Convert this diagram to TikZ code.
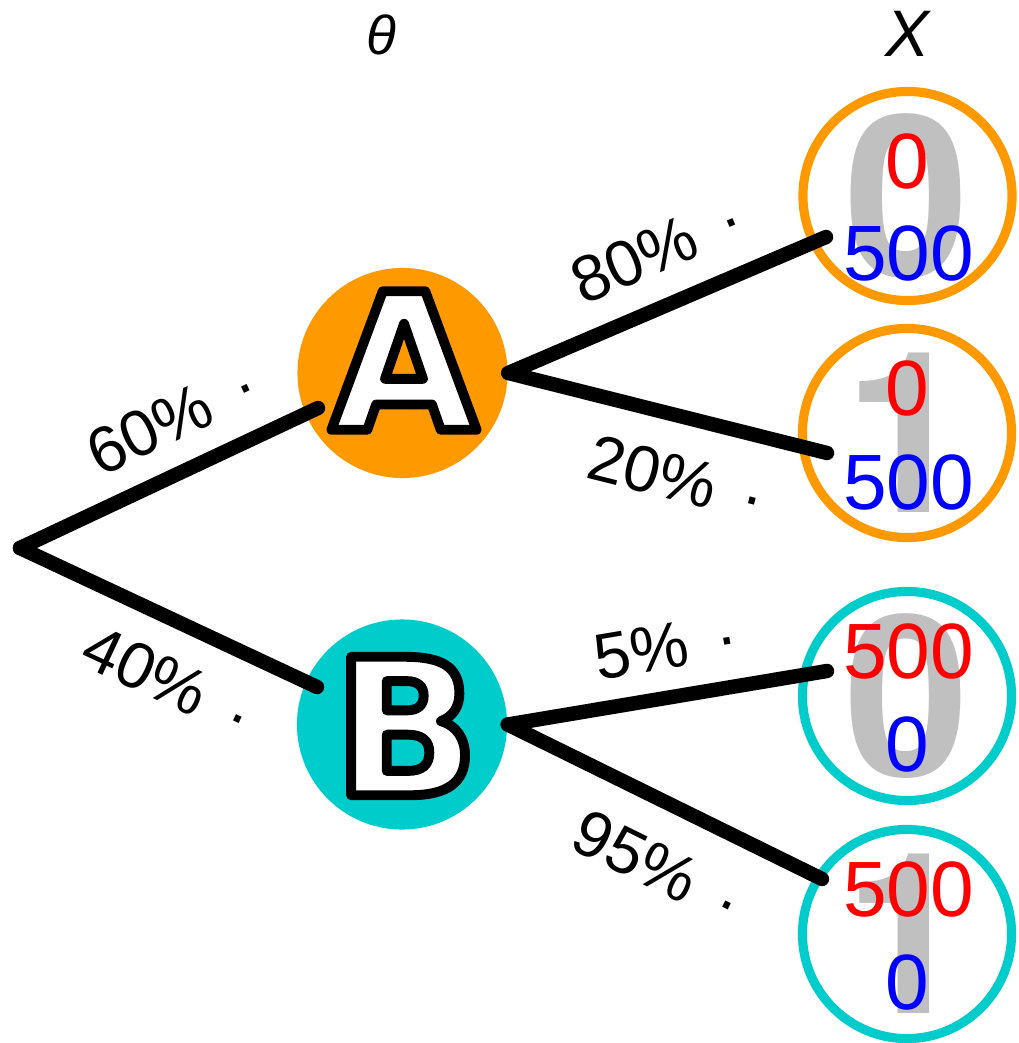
\documentclass[tikz,border=0pt]{standalone}
\usepackage{fontspec}
\setmainfont{Liberation Sans}
\newfontfamily\letterfont{DejaVu Sans}
\newfontfamily\digitfont{TeX Gyre Heros}
\newcommand\outlined[1]{\special{pdf:literal direct 0 G 2 Tr 2.8 w 1 j}#1\special{pdf:literal direct 0 Tr}}
\newcommand\pdot{\hspace{.43em}·}
\definecolor{stateA}{HTML}{FF9900}
\definecolor{stateB}{HTML}{00CCCC}
\definecolor{digitgray}{HTML}{C0C0C0}

\begin{document}
\begin{tikzpicture}[x=0.01cm, y=-0.01cm,
  state/.style={circle, minimum size=2.1cm, inner sep=0pt},
  outcome/.style={circle, minimum size=2.09cm, inner sep=0pt, line width=2.6pt, text=digitgray, font=\digitfont\bfseries\fontsize{64}{64}\selectfont},
  branch/.style={line width=4.1pt, line cap=round},
  prob/.style={sloped, inner sep=0pt, font=\fontsize{18.5}{20}\selectfont},
  letter/.style={text=white, inner sep=0pt, font=\letterfont\bfseries\fontsize{54}{54}\selectfont},
  payoff/.style={inner sep=0pt, font=\fontsize{22.3}{24}\selectfont}]
\useasboundingbox (0,0) rectangle (1018,1043);
\node[state, fill=stateA] (A) at (402.5,373) {};
\node[state, fill=stateB] (B) at (402,724.5) {};
\node[outcome, draw=stateA] (L1) at (907.5,196) {0};
\node[outcome, draw=stateA] (L2) at (907,433) {1};
\node[outcome, draw=stateB] (L3) at (907,696) {0};
\node[outcome, draw=stateB] (L4) at (907,934) {1};
\coordinate (root) at (20,548);
\coordinate (tipA) at (318,408);
\coordinate (tipB) at (317,687);
\coordinate (tip1) at (826,237);
\coordinate (tip2) at (827,453);
\coordinate (tip3) at (827,671);
\coordinate (tip4) at (822,879);
\draw[branch] (root) -- node[prob, pos=.585, above=6.3pt] (p60) {60\%\pdot} (tipA);
\draw[branch] (root) -- node[prob, pos=.582, below=7.8pt] (p40) {40\%\pdot} (tipB);
\draw[branch] (A.east) -- node[prob, pos=.536, above=6.9pt] (p80) {80\%\pdot} (tip1);
\draw[branch] (A.east) -- node[prob, pos=.575, below=8.6pt] (p20) {20\%\pdot} (tip2);
\draw[branch] (B.east) -- node[prob, pos=.522, above=5.8pt] (p5) {5\%\pdot} (tip3);
\draw[branch] (B.east) -- node[prob, pos=.565, below=8.8pt] (p95) {95\%\pdot} (tip4);
\node[letter] (Aname) at (404,360.5) {\outlined{A}};
\node[letter] (Bname) at (406,726) {\outlined{B}};
\node[payoff, text=red] (L1top) at (907.5,161.5) {0};
\node[payoff, text=blue] (L1bot) at (908.5,254) {500};
\node[payoff, text=red] (L2top) at (907.5,389) {0};
\node[payoff, text=blue] (L2bot) at (908.5,482.5) {500};
\node[payoff, text=red] (L3top) at (908.5,651) {500};
\node[payoff, text=blue] (L3bot) at (907.5,744) {0};
\node[payoff, text=red] (L4top) at (908.5,889) {500};
\node[payoff, text=blue] (L4bot) at (907.5,982.5) {0};
\node[font=\itshape\fontsize{15.6}{16}\selectfont] (theta) at (381,35) {θ};
\node[font=\itshape\fontsize{18.7}{19}\selectfont] (xvar) at (907,34) {X};
\end{tikzpicture}
\end{document}
